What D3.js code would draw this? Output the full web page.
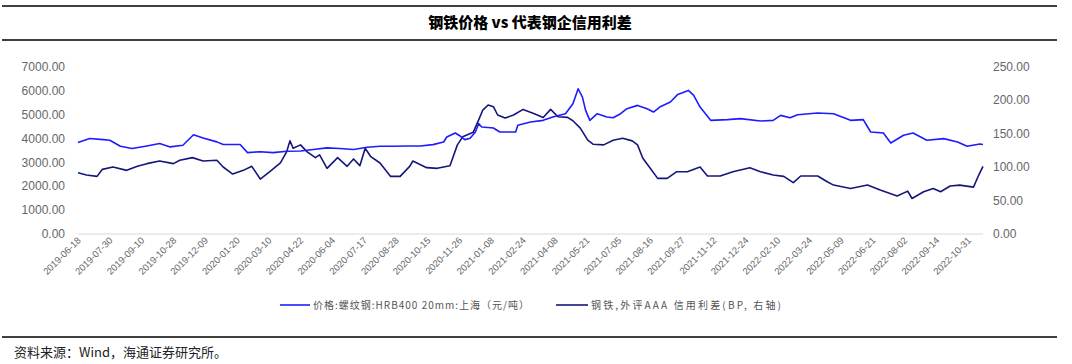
<!DOCTYPE html>
<html><head><meta charset="utf-8">
<script src="https://cdn.jsdelivr.net/npm/d3@7"></script>
<style>body{margin:0;background:#fff}svg{display:block}</style>
</head><body><svg id="c" width="1072" height="364"></svg>
<script>
// x tick labels (every 30 trading days)
const tickLabels = ["2019-06-18","2019-07-30","2019-09-10","2019-10-28","2019-12-09","2020-01-20","2020-03-10","2020-04-22","2020-06-04","2020-07-17","2020-08-28","2020-10-15","2020-11-26","2021-01-08","2021-02-24","2021-04-08","2021-05-21","2021-07-05","2021-08-16","2021-09-27","2021-11-12","2021-12-24","2022-02-10","2022-03-24","2022-05-09","2022-06-21","2022-08-02","2022-09-14","2022-10-31"];
const lastDay = 854;
// trading-day index of each reading
const priceDay = [0,11,24,30,40,51,65,77,87,99,109,118,131,137,153,160,172,184,197,210,222,235,247,260,273,285,297,311,323,335,345,348,356,361,365,370,375,378,381,392,398,413,415,427,439,448,460,467,472,476,479,483,490,499,505,512,518,528,537,543,549,559,566,576,581,587,597,613,625,644,656,663,672,679,698,713,729,741,748,760,767,779,788,801,817,830,839,851,854];
const priceVal = [3820,3990,3945,3917,3667,3570,3680,3780,3640,3710,4150,4010,3850,3740,3740,3400,3440,3400,3458,3470,3530,3600,3570,3530,3625,3667,3667,3680,3680,3736,3847,4055,4222,4083,3944,4000,4264,4611,4472,4430,4264,4264,4542,4680,4750,4890,5028,5445,6070,5722,5167,4750,5028,4890,4861,5028,5236,5375,5236,5097,5306,5514,5833,6000,5792,5306,4750,4778,4820,4722,4750,4958,4861,4986,5055,5028,4750,4778,4264,4222,3805,4125,4222,3917,3985,3847,3667,3760,3740];
const spreadDay = [0,8,18,23,33,46,56,65,77,90,96,108,118,131,137,146,156,164,172,181,191,197,200,203,210,216,224,228,235,245,254,260,266,271,276,285,295,304,313,316,329,339,351,358,363,373,378,382,387,392,396,403,411,420,430,439,446,453,462,467,474,481,486,496,505,514,523,528,533,540,547,556,565,575,587,594,606,618,634,644,656,666,675,682,698,707,713,729,745,757,773,783,787,798,807,814,823,832,845,850,854];
const spreadVal = [91.5,88,86,96.5,100,95,101,105,109,105,110,114,109,110,100,89.5,95,101,82,93,106,123,139,128,133,123,114,118,98,114,101,112,102,128,116,106,86,86,101,109,99,98,102,133,145,152,170,185,192.5,190,177.6,173,177.6,186,180,174,186,175,174,169,158,140,134,133,140,143,139,133,113,98,83,83,93,93,100,86.6,86.6,93,99,93,88,86,76.6,86.6,86.6,78,73,68,73,65.7,56.7,64,53,63,68,63,71.6,73,70,88,101];
const leftTicks = [0,1000,2000,3000,4000,5000,6000,7000];
const rightTicks = [0,50,100,150,200,250];
const seriesNames = ["价格:螺纹钢:HRB400 20mm:上海（元/吨）","钢铁,外评AAA 信用利差(BP, 右轴)"];
const title = "钢铁价格 vs 代表钢企信用利差";
const source = "资料来源：Wind，海通证券研究所。";

const svg = d3.select("#c");
const L = 78, R = 983, T = 66.5, B = 234;
const x = d3.scaleLinear().domain([0, lastDay]).range([L, R]);
const yL = d3.scaleLinear().domain([0, 7000]).range([B, T]);
const yR = d3.scaleLinear().domain([0, 250]).range([B, T]);

// frame lines
[6, 40, 337].forEach(yy => svg.append("line").attr("x1", 2).attr("x2", 1057).attr("y1", yy).attr("y2", yy).attr("stroke", "#000").attr("stroke-width", 1.6));
svg.append("text").attr("x", 530).attr("y", 28).attr("text-anchor", "middle")
  .attr("font-family", "Noto Sans CJK SC").attr("font-weight", 900).attr("font-size", 15).attr("fill", "#000").text(title);

// zero line
svg.append("line").attr("x1", L).attr("x2", R).attr("y1", B).attr("y2", B).attr("stroke", "#d9d9d9").attr("stroke-width", 1);

const gl = svg.append("g").attr("transform", `translate(${L},0)`)
  .call(d3.axisLeft(yL).tickValues(leftTicks).tickFormat(d3.format(".2f")).tickSize(0).tickPadding(13));
const gr = svg.append("g").attr("transform", `translate(${R},0)`)
  .call(d3.axisRight(yR).tickValues(rightTicks).tickFormat(d3.format(".2f")).tickSize(0).tickPadding(10));
[gl, gr].forEach(g => { g.select(".domain").remove(); g.selectAll("text").attr("font-family", "Liberation Sans, Arial").attr("font-size", 12).attr("fill", "#666"); });

const tickDays = tickLabels.map((_, i) => i * 30);
const gx = svg.append("g").attr("transform", `translate(0,${B})`)
  .call(d3.axisBottom(x).tickValues(tickDays).tickFormat((d, i) => tickLabels[i]).tickSize(0));
gx.select(".domain").remove();
gx.selectAll("text").attr("font-family", "Liberation Sans, Arial").attr("font-size", 9.5).attr("fill", "#666")
  .attr("text-anchor", "end").attr("dy", 0).attr("transform", "translate(3,7) rotate(-45)").attr("y", 0).attr("x", 0);

const line1 = d3.line().x((d, i) => x(priceDay[i])).y(d => yL(d));
const line2 = d3.line().x((d, i) => x(spreadDay[i])).y(d => yR(d));
svg.append("path").attr("d", line2(spreadVal)).attr("fill", "none").attr("stroke", "#16167a").attr("stroke-width", 1.6).attr("stroke-linejoin", "round");
svg.append("path").attr("d", line1(priceVal)).attr("fill", "none").attr("stroke", "#1c1cff").attr("stroke-width", 1.6).attr("stroke-linejoin", "round");

// legend
const lg = [{x1: 280, x2: 310, c: "#1c1cff", tx: 313, w: 216, t: seriesNames[0]}, {x1: 556, x2: 588, c: "#16167a", tx: 591, w: 190, t: seriesNames[1]}];
lg.forEach(o => {
  svg.append("line").attr("x1", o.x1).attr("x2", o.x2).attr("y1", 305).attr("y2", 305).attr("stroke", o.c).attr("stroke-width", 1.6);
  svg.append("text").attr("x", o.tx).attr("y", 309).attr("font-family", "Noto Sans CJK SC").attr("font-size", 10).attr("fill", "#555")
    .attr("textLength", o.w).attr("lengthAdjust", "spacing").text(o.t);
});
svg.append("text").attr("x", 14).attr("y", 357).attr("font-family", "Noto Sans CJK SC, Liberation Sans").attr("font-size", 13).attr("fill", "#222").text(source);
</script></body></html>
